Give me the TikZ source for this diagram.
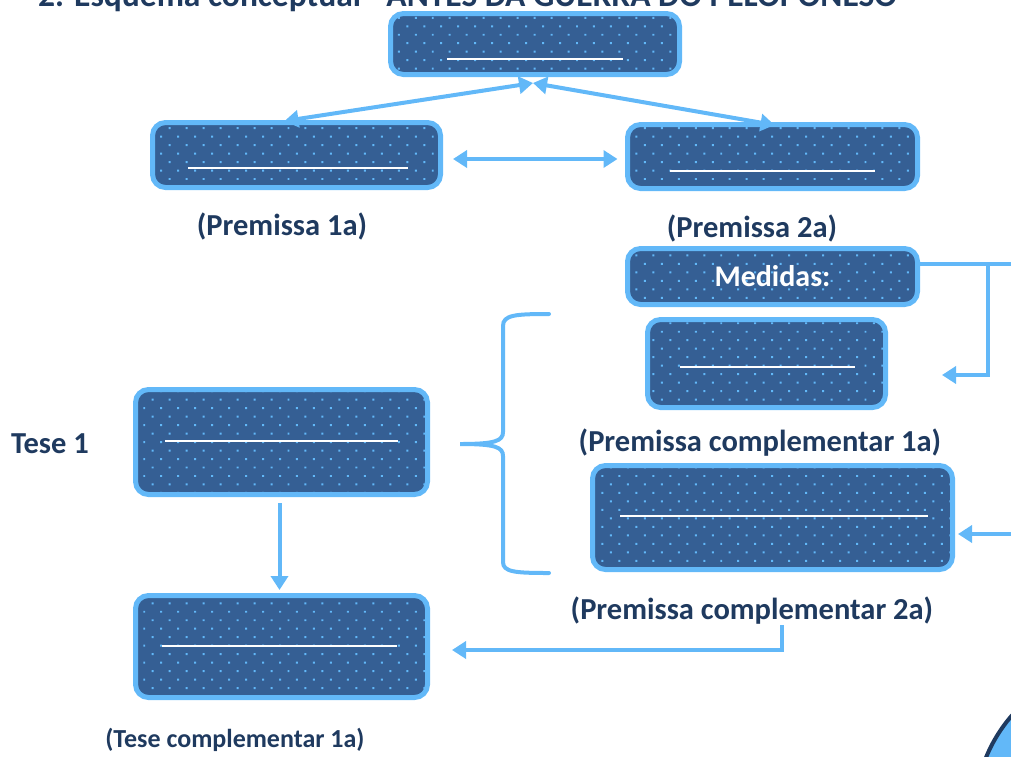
\documentclass[tikz,border=0pt]{standalone}
\usepackage{fontspec}
\setmainfont{Carlito}
\usetikzlibrary{arrows.meta,patterns.meta,calc}
\definecolor{navy}{HTML}{1F3A5F}
\definecolor{boxfill}{HTML}{355F94}
\definecolor{lblue}{HTML}{62B8F8}
\definecolor{dotc}{HTML}{62B8F8}
\begin{document}
\begin{tikzpicture}[x=1pt,y=-1pt,
  box/.style={draw=lblue, line width=5pt, rounded corners=13pt,
    preaction={fill=boxfill},
    pattern={Dots[distance=12pt,angle=45,radius=1.4pt]}, pattern color=dotc,
    inner sep=0pt, text=white, font=\fontsize{30}{36}\selectfont\bfseries},
  lab/.style={font=\fontsize{30.5}{36}\selectfont\bfseries, text=navy, inner sep=0pt},
  conn/.style={draw=lblue, line width=4pt},
  tipend/.style={-{Triangle[length=14pt,width=17pt]}},
  tipboth/.style={{Triangle[length=14pt,width=17pt]}-{Triangle[length=14pt,width=17pt]}},
  blank/.style={draw=white, line width=2.8pt},
]
\useasboundingbox (0,0) rectangle (1011,756);
\clip (0,0) rectangle (1011,756);

% title (cut off at the top, as in the reference)
\node[lab, font=\fontsize{33.5}{40}\selectfont\bfseries, anchor=base west] (title) at (38,6) {2. Esquema conceptual - ANTES DA GUERRA DO PELOPONESO};

% boxes
\node[box, minimum width=289pt, minimum height=61pt] (top) at (535,44) {};
\node[box, minimum width=288pt, minimum height=65pt] (p1) at (296.5,155) {};
\node[box, minimum width=290pt, minimum height=64pt] (p2) at (772.5,156.5) {};
\node[box, minimum width=290pt, minimum height=56pt] (med) at (772.5,276.5) {Medidas:};
\node[box, minimum width=238pt, minimum height=88pt] (pc1) at (766.5,363.5) {};
\node[box, minimum width=360pt, minimum height=104pt] (pc2) at (772.5,517.5) {};
\node[box, minimum width=292pt, minimum height=105pt] (t1) at (281.5,442) {};
\node[box, minimum width=292pt, minimum height=102pt] (tc) at (281.5,646.5) {};

% blank lines inside boxes
\draw[blank] ($(top.center)+(-88,15)$) -- ++(176,0);
\draw[blank] ($(p1.center)+(-108.5,13)$) -- ++(220,0);
\draw[blank] ($(p2.center)+(-102.5,14.5)$) -- ++(205,0);
\draw[blank] ($(pc1.center)+(-86.5,3.5)$) -- ++(175,0);
\draw[blank] ($(pc2.center)+(-152.5,-1.5)$) -- ++(308,0);
\draw[blank] ($(t1.center)+(-116.5,-1)$) -- ++(233,0);
\draw[blank] ($(tc.center)+(-119.5,-0.5)$) -- ++(235,0);

% labels
\node[lab] (l1) at (282,226) {(Premissa 1a)};
\node[lab] (l2) at (752,228) {(Premissa 2a)};
\node[lab] (lc1) at (760,443) {(Premissa complementar 1a)};
\node[lab] (lc2) at (752,611) {(Premissa complementar 2a)};
\node[lab] (lt1) at (50,444) {Tese 1};
\node[lab, font=\fontsize{26}{31}\selectfont\bfseries] (ltc) at (235,740) {(Tese complementar 1a)};

% connectors
\draw[conn, tipboth] ($(top.south)+(-2,6)$) -- ($(p1.north)+(-12,1)$);
\draw[conn, tipboth] ($(top.south)+(-2,6)$) -- ($(p2.north)+(2,3)$);
\draw[conn, tipboth] ($(p1.east)+(10,4)$) -- ($(p2.west)+(-7.5,2.5)$);
\draw[conn, tipend] ($(t1.south)+(-2,6)$) -- ($(tc.north)+(-2,-3)$);

\coordinate (medr) at ($(med.east)+(0,-13)$);
\coordinate (edge1) at (1020,263.5);
\coordinate (branch) at (988,263.5);
\coordinate (pc1t) at (942,375);
\draw[conn] (medr) -- (edge1);
\draw[conn, tipend] (branch) -- (branch |- pc1t) -- (pc1t);

\coordinate (edge2) at (1020,534);
\draw[conn, tipend] (edge2) -- ($(pc2.east |- edge2)+(3,0)$);

\coordinate (lc2s) at (782,625);
\coordinate (tct) at (452,650);
\draw[conn, tipend] (lc2s) -- (lc2s |- tct) -- (tct);

% brace
\draw[conn, line cap=round] (549,314) .. controls (515,314) and (503,315) .. (503,326)
  -- (503,432) .. controls (503,441) and (495,444) .. (460,444)
  .. controls (495,444) and (503,447) .. (503,456)
  -- (503,562) .. controls (503,572) and (515,573) .. (549,573);

% corner circle
\draw[navy, line width=4pt, fill=lblue] (1125,814) circle[radius=150pt];
\end{tikzpicture}
\end{document}
